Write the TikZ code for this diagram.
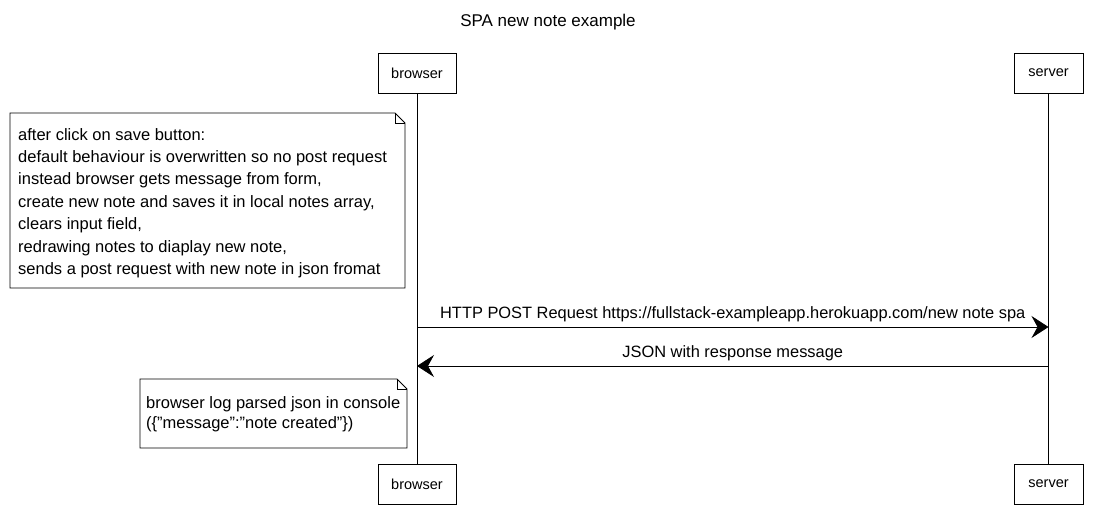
\documentclass[tikz,border=0pt]{standalone}
\usepackage{fontspec}
\setmainfont{Liberation Sans}
\usetikzlibrary{arrows.meta,positioning,calc}
\tikzset{actor/.style={draw,thick,minimum width=78pt,minimum height=40pt,font=\fontsize{14.5}{16}\selectfont},
         msg/.style={thick,-{Stealth[length=17pt,width=22pt,inset=6pt]}},
         msglabel/.style={above=1pt,font=\fontsize{16.4}{18}\selectfont},
         notetext/.style={align=left,inner sep=0pt,anchor=north west,font=\fontsize{16.5}{22.4}\selectfont}}
\begin{document}
\begin{tikzpicture}[x=1pt,y=-1pt]
            \useasboundingbox (0,0) rectangle (1098,530);
            \node[font=\fontsize{17}{19}\selectfont] (title) at (548,22) {SPA new note example};
            \node[actor] (btop) at (417,73) {browser};
            \node[actor,minimum width=69pt] (stop) at (1048.5,73) {server};
            \node[actor] (bbot) at (417,484) {browser};
            \node[actor,minimum width=69pt] (sbot) at (1048.5,484) {server};
            \draw[thick] (btop) -- (bbot);
            \draw[thick] (stop) -- (sbot);
            % note after click
            \draw[thick] (10,288) -- (10,113) -- (395,113) -- (405,123) -- (405,288) -- cycle;
            \draw[thick] (395,113) -- (395,123) -- (405,123);
            \node[notetext] (n1) at (18,128) {after click on save button:\\
                default behaviour is overwritten so no post request\\
                instead browser gets message from form,\\
                create new note and saves it in local notes array,\\
                clears input field,\\
                redrawing notes to diaplay new note,\\
                sends a post request with new note in json fromat};
            % messages
            \coordinate (b1) at (btop.south |- 0,327);
            \coordinate (s1) at (stop.south |- 0,327);
            \coordinate (b2) at (btop.south |- 0,366);
            \coordinate (s2) at (stop.south |- 0,366);
            \draw[msg] (b1) -- node[msglabel] (m1) {HTTP POST Request https://fullstack-exampleapp.herokuapp.com/new note spa} (s1);
            \draw[msg] (s2) -- node[msglabel] (m2) {JSON with response message} (b2);
            % note console
            \draw[thick] (140,448) -- (140,379) -- (397,379) -- (407,389) -- (407,448) -- cycle;
            \draw[thick] (397,379) -- (397,389) -- (407,389);
            \node[notetext,font=\fontsize{16.5}{20}\selectfont] (n2) at (146,396) {browser log parsed json in console\\
                (\{\symbol{34}message\symbol{34}:\symbol{34}note created\symbol{34}\})};
        \end{tikzpicture}
\end{document}
